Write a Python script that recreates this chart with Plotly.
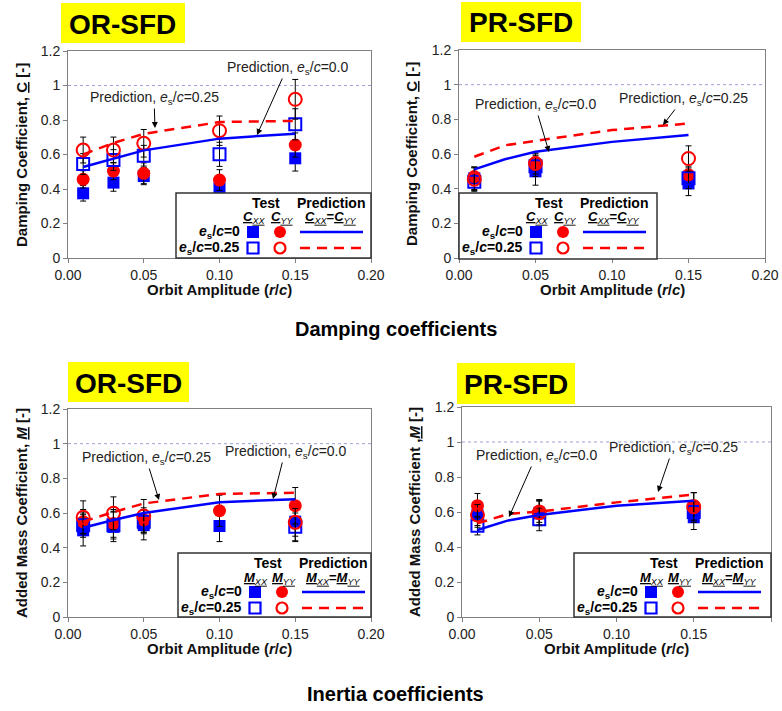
import plotly.graph_objects as go

W, H = 782, 711
FONT = "Liberation Sans, Arial, sans-serif"
BLUE = "#0000FF"
RED = "#FF0000"

# ---------------- data ----------------
x5 = [0.01, 0.03, 0.05, 0.10, 0.15]
x3 = [0.01, 0.05, 0.15]
pred_x = [0.01, 0.03, 0.05, 0.10, 0.15]

# Panel A: Damping, OR-SFD
a_xx0 = [0.375, 0.437, 0.475, 0.404, 0.578]
a_xx0_err = [0.045, 0.05, 0.05, 0.064, 0.074]
a_yy0 = [0.456, 0.504, 0.491, 0.452, 0.655]
a_yy0_err = [0.05, 0.05, 0.06, 0.06, 0.07]
a_xx25 = [0.545, 0.568, 0.593, 0.601, 0.775]
a_xx25_err = [0.06, 0.06, 0.06, 0.07, 0.09]
a_yy25 = [0.626, 0.626, 0.665, 0.738, 0.920]
a_yy25_err = [0.075, 0.075, 0.08, 0.085, 0.115]
a_pred0 = [0.528, 0.576, 0.624, 0.692, 0.721]
a_pred25 = [0.600, 0.667, 0.720, 0.788, 0.795]

# Panel B: Damping, PR-SFD
b_xx0 = [0.46, 0.50, 0.43]
b_xx0_err = [0.065, 0.08, 0.07]
b_yy0 = [0.47, 0.55, 0.48]
b_yy0_err = [0.05, 0.05, 0.05]
b_xx25 = [0.44, 0.53, 0.46]
b_xx25_err = [0.05, 0.06, 0.06]
b_yy25 = [0.455, 0.545, 0.574]
b_yy25_err = [0.07, 0.06, 0.073]
b_pred0 = [0.511, 0.570, 0.613, 0.670, 0.709]
b_pred25 = [0.584, 0.650, 0.676, 0.738, 0.776]

# Panel C: Inertia, OR-SFD
c_xx0 = [0.50, 0.52, 0.53, 0.525, 0.55]
c_xx0_err = [0.09, 0.085, 0.085, 0.09, 0.115]
c_yy0 = [0.55, 0.54, 0.56, 0.613, 0.642]
c_yy0_err = [0.07, 0.08, 0.07, 0.09, 0.105]
c_xx25 = [0.53, 0.53, 0.55, None, 0.52]
c_xx25_err = [0.07, 0.08, 0.07, 0, 0.08]
c_yy25 = [0.575, 0.598, 0.583, None, 0.546]
c_yy25_err = [0.095, 0.095, 0.095, 0, 0.08]
c_pred0 = [0.515, 0.560, 0.600, 0.662, 0.680]
c_pred25 = [0.550, 0.605, 0.655, 0.710, 0.717]

# Panel D: Inertia, PR-SFD
d_xx0 = [0.583, 0.592, 0.57]
d_xx0_err = [0.07, 0.07, 0.07]
d_yy0 = [0.636, 0.606, 0.636]
d_yy0_err = [0.07, 0.065, 0.075]
d_xx25 = [0.522, 0.558, 0.60]
d_xx25_err = [0.053, 0.065, 0.06]
d_yy25 = [0.583, 0.596, 0.63]
d_yy25_err = [0.06, 0.07, 0.08]
d_pred0 = [0.497, 0.552, 0.583, 0.636, 0.664]
d_pred25 = [0.535, 0.589, 0.602, 0.655, 0.700]

x_ticks = [0.00, 0.05, 0.10, 0.15, 0.20]
y_ticks = [0, 0.2, 0.4, 0.6, 0.8, 1.0, 1.2]


def PX(x):
    return x / W


def PY(y):
    return 1 - y / H


fig = go.Figure()

# panel boxes in pixels: left, top, right, bottom
panels = [
    dict(ax="", box=(68, 51, 371, 258), xt=x5, xx0=a_xx0, xx0e=a_xx0_err, yy0=a_yy0, yy0e=a_yy0_err,
         xx25=a_xx25, xx25e=a_xx25_err, yy25=a_yy25, yy25e=a_yy25_err, p0=a_pred0, p25=a_pred25),
    dict(ax="2", box=(459, 50, 765, 258), xt=x3, xx0=b_xx0, xx0e=b_xx0_err, yy0=b_yy0, yy0e=b_yy0_err,
         xx25=b_xx25, xx25e=b_xx25_err, yy25=b_yy25, yy25e=b_yy25_err, p0=b_pred0, p25=b_pred25),
    dict(ax="3", box=(68, 409, 371, 617), xt=x5, xx0=c_xx0, xx0e=c_xx0_err, yy0=c_yy0, yy0e=c_yy0_err,
         xx25=c_xx25, xx25e=c_xx25_err, yy25=c_yy25, yy25e=c_yy25_err, p0=c_pred0, p25=c_pred25),
    dict(ax="4", box=(462, 407, 771, 617), xt=x3, xx0=d_xx0, xx0e=d_xx0_err, yy0=d_yy0, yy0e=d_yy0_err,
         xx25=d_xx25, xx25e=d_xx25_err, yy25=d_yy25, yy25e=d_yy25_err, p0=d_pred0, p25=d_pred25),
]

axis_style = dict(showline=True, mirror=True, linecolor="#808080", linewidth=1,
                  ticks="outside", ticklen=4, tickcolor="#808080",
                  showgrid=False, zeroline=False, automargin=False,
                  tickfont=dict(family=FONT, size=14, color="#222222"))

shapes = []
annotations = []


def note(x, y, txt, size, color="black", xanchor="center", bold=False, angle=0):
    annotations.append(dict(x=PX(x), y=PY(y), xref="paper", yref="paper", text=txt,
                            showarrow=False, xanchor=xanchor, yanchor="middle", textangle=angle,
                            font=dict(family=FONT, size=size, color=color)))


for p in panels:
    xa = "x" + p["ax"]
    ya = "y" + p["ax"]
    L, T, R, B = p["box"]
    eb = lambda arr: dict(type="data", array=arr, visible=True, color="black", thickness=1, width=3)
    fig.add_trace(go.Scatter(x=p["xt"], y=p["xx0"], mode="markers", xaxis=xa, yaxis=ya,
                             marker=dict(symbol="square", size=12, color=BLUE), error_y=eb(p["xx0e"])))
    fig.add_trace(go.Scatter(x=p["xt"], y=p["yy0"], mode="markers", xaxis=xa, yaxis=ya,
                             marker=dict(symbol="circle", size=13, color=RED), error_y=eb(p["yy0e"])))
    fig.add_trace(go.Scatter(x=p["xt"], y=p["xx25"], mode="markers", xaxis=xa, yaxis=ya,
                             marker=dict(symbol="square-open", size=12, color=BLUE, line=dict(width=2, color=BLUE)),
                             error_y=eb(p["xx25e"])))
    fig.add_trace(go.Scatter(x=p["xt"], y=p["yy25"], mode="markers", xaxis=xa, yaxis=ya,
                             marker=dict(symbol="circle-open", size=13, color=RED, line=dict(width=2, color=RED)),
                             error_y=eb(p["yy25e"])))
    fig.add_trace(go.Scatter(x=pred_x, y=p["p0"], mode="lines", xaxis=xa, yaxis=ya,
                             line=dict(color=BLUE, width=2.5)))
    fig.add_trace(go.Scatter(x=pred_x, y=p["p25"], mode="lines", xaxis=xa, yaxis=ya,
                             line=dict(color=RED, width=2.5, dash="10px,7px")))

    fig.update_layout(**{
        "xaxis" + p["ax"]: dict(domain=[PX(L), PX(R)], range=[0, 0.2], tickvals=x_ticks,
                                tickformat=".2f", anchor=ya, **axis_style),
        "yaxis" + p["ax"]: dict(domain=[PY(B), PY(T)], range=[0, 1.2], tickvals=y_ticks,
                                anchor=xa, **axis_style),
    })
    # dotted reference line at 1
    shapes.append(dict(type="line", xref=xa + " domain", yref=ya, x0=0, x1=1, y0=1, y1=1,
                       line=dict(color="#A0A0D8", width=1, dash="dot"), layer="below"))
    # x title
    note((L + R) / 2, B + 31, "<b>Orbit Amplitude (<i>r</i>/<i>c</i>)</b>", 15, "#111111")

# y titles
ytitles = [
    ("<b>Damping Coefficient, <u>C</u> [-]</b>", 21, 155),
    ("<b>Damping Coefficient, <u>C</u> [-]</b>", 411, 154),
    ("<b>Added Mass Coefficient, <u><i>M</i></u> [-]</b>", 21, 513),
    ("<b>Added Mass Coefficient ,<u><i>M</i></u> [-]</b>", 414, 512),
]
for txt, x, y in ytitles:
    note(x, y, txt, 15, "#111111", angle=-90)

# yellow titles
titles = [("OR-SFD", (61, 3, 185, 43)), ("PR-SFD", (461, 2, 581, 42)),
          ("OR-SFD", (68, 362, 189, 402)), ("PR-SFD", (457, 363, 575, 404))]
for txt, (l, t, r, b) in titles:
    shapes.append(dict(type="rect", xref="paper", yref="paper", x0=PX(l), x1=PX(r), y0=PY(b), y1=PY(t),
                       fillcolor="#FFFF00", line=dict(width=0)))
    note((l + r) / 2, (t + b) / 2 + 1, "<b>%s</b>" % txt, 28)

# section captions
note(396, 329, "<b>Damping coefficients</b>", 20)
note(395, 694, "<b>Inertia coefficients</b>", 20)

# prediction call-outs: (label, text center, arrow head) in pixels
E0 = "Prediction, <i>e</i><sub>s</sub>/<i>c</i>=0.0"
E25 = "Prediction, <i>e</i><sub>s</sub>/<i>c</i>=0.25"
callouts = [
    (E0, (287, 68), (257, 135)),
    (E25, (154, 98), (155, 128)),
    (E0, (535, 105), (549, 152)),
    (E25, (683, 99), (663, 125)),
    (E25, (146, 458), (159, 500)),
    (E0, (285, 452), (273, 499)),
    (E0, (536, 456), (509, 517)),
    (E25, (673, 448), (658, 492)),
]
for txt, (tx, ty), (hx, hy) in callouts:
    annotations.append(dict(x=PX(hx), y=PY(hy), xref="paper", yref="paper", text=txt, showarrow=True,
                            ax=tx - hx, ay=ty - hy, arrowhead=2, arrowsize=1.2, arrowwidth=1,
                            arrowcolor="black", standoff=0,
                            font=dict(family=FONT, size=14, color="#222222")))

# custom legends
legends = [((176, 193, 371, 258), "C"), ((459, 193, 657, 259), "C"),
           ((178, 553, 371, 617), "M"), ((574, 553, 771, 617), "M")]
for (l, t, r, b), s in legends:
    shapes.append(dict(type="rect", xref="paper", yref="paper", x0=PX(l), x1=PX(r), y0=PY(b), y1=PY(t),
                       fillcolor="white", line=dict(color="#333333", width=1.5)))

    note(l + 90, t + 10, "<b>Test</b>", 14)
    note(l + 155, t + 10, "<b>Prediction</b>", 14)
    cxx = "<b><i><u>%s</u></i></b><sub><i><u>XX</u></i></sub>" % s
    cyy = "<b><i><u>%s</u></i></b><sub><i><u>YY</u></i></sub>" % s
    note(l + 78, t + 25, cxx, 13)
    note(l + 106, t + 25, cyy, 13)
    note(l + 155, t + 25, cxx + "<b>=</b>" + cyy, 13)
    note(l + 66, t + 39, "<b><i>e</i><sub>s</sub>/<i>c</i>=0</b>", 14, xanchor="right")
    note(l + 66, t + 55, "<b><i>e</i><sub>s</sub>/<i>c</i>=0.25</b>", 14, xanchor="right")

    def sym(kind, dx, dy, filled, color):
        d = dict(type=kind, xref="paper", yref="paper", xsizemode="pixel", ysizemode="pixel",
                 xanchor=PX(l + dx), yanchor=PY(t + dy), x0=-6, x1=6, y0=-6, y1=6)
        if filled:
            d.update(fillcolor=color, line=dict(width=0))
        else:
            d.update(line=dict(color=color, width=2.2), x0=-5.5, x1=5.5, y0=-5.5, y1=5.5)
        shapes.append(d)

    sym("rect", 77, 39, True, BLUE)
    sym("circle", 104, 39, True, RED)
    sym("rect", 77, 55, False, BLUE)
    sym("circle", 104, 55, False, RED)
    shapes.append(dict(type="line", xref="paper", yref="paper", x0=PX(l + 124), x1=PX(l + 187),
                       y0=PY(t + 39), y1=PY(t + 39), line=dict(color=BLUE, width=2.5)))
    shapes.append(dict(type="line", xref="paper", yref="paper", x0=PX(l + 124), x1=PX(l + 187),
                       y0=PY(t + 55), y1=PY(t + 55), line=dict(color=RED, width=2.5, dash="10px,7px")))

fig.update_layout(width=W, height=H, margin=dict(l=0, r=0, t=0, b=0, autoexpand=False),
                  paper_bgcolor="white", plot_bgcolor="white", showlegend=False,
                  shapes=shapes, annotations=annotations,
                  font=dict(family=FONT))

fig.write_html("out.html")
